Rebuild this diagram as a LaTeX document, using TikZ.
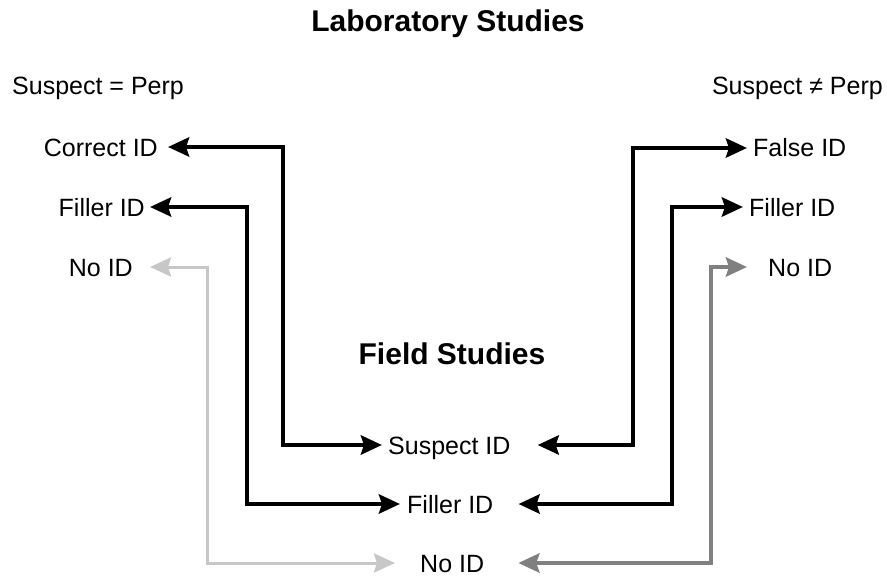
\documentclass[tikz,border=0pt]{standalone}
\usepackage{fontspec}
\setmainfont{Liberation Sans}
\usetikzlibrary{arrows.meta}

\begin{document}
\begin{tikzpicture}[x=1pt, y=-1pt,
  lbl/.style={font=\fontsize{25}{30}\selectfont, inner sep=0pt, text height=18pt, text depth=0pt},
  head/.style={font=\bfseries\fontsize{30}{36}\selectfont, inner sep=0pt},
  conn/.style={line width=4.5pt, {Stealth[length=21pt,width=19pt,inset=3pt]}-{Stealth[length=21pt,width=19pt,inset=3pt]}},
  faint/.style={draw=black!22, line width=3pt},
  grey/.style={draw=black!50}]
  \useasboundingbox (0,0) rectangle (887,578);
  \node[head] (lab) at (448,24) {Laboratory Studies};
  \node[head] (field) at (452,354) {Field Studies};
  \node[lbl, anchor=west] (same) at (12,86) {Suspect = Perp};
  \node[lbl, anchor=east] (diff) at (883,86) {Suspect ≠ Perp};
  \node[lbl, anchor=east] (lcorrect) at (158,147) {Correct ID};
  \node[lbl, anchor=east] (lfiller) at (145,207) {Filler ID};
  \node[lbl, anchor=east] (lnone) at (133,267) {No ID};
  \node[lbl, anchor=west] (rfalse) at (753,148) {False ID};
  \node[lbl, anchor=west] (rfiller) at (749,207) {Filler ID};
  \node[lbl, anchor=west] (rnone) at (768,267) {No ID};
  \node[lbl, anchor=west] (fsuspect) at (388,445) {Suspect ID};
  \node[lbl, anchor=west] (ffiller) at (407,504) {Filler ID};
  \node[lbl, anchor=west] (fnone) at (420,563) {No ID};
  \coordinate (xl1) at (283,0);
  \coordinate (xl2) at (247,0);
  \coordinate (xl3) at (207,0);
  \coordinate (xr1) at (633,0);
  \coordinate (xr2) at (672,0);
  \coordinate (xr3) at (711,0);
  \draw[conn] ([xshift=10pt]lcorrect.east) -| (xl1 |- fsuspect.west) -- ([xshift=-6pt]fsuspect.west);
  \draw[conn] ([xshift=5pt]lfiller.east) -| (xl2 |- ffiller.west) -- ([xshift=-7pt]ffiller.west);
  \draw[conn, faint] ([xshift=17pt]lnone.east) -| (xl3 |- fnone.west) -- ([xshift=-25pt]fnone.west);
  \draw[conn] ([xshift=-6pt]rfalse.west) -| (xr1 |- fsuspect.east) -- ([xshift=27pt]fsuspect.east);
  \draw[conn] ([xshift=-6pt]rfiller.west) -| (xr2 |- ffiller.east) -- ([xshift=25pt]ffiller.east);
  \draw[conn, grey] ([xshift=-21pt]rnone.west) -| (xr3 |- fnone.east) -- ([xshift=34pt]fnone.east);
\end{tikzpicture}
\end{document}
